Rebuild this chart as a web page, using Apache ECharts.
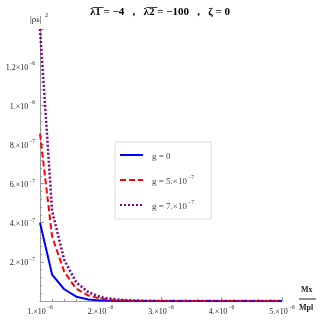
<!DOCTYPE html>
<html>
<head>
<meta charset="utf-8">
<title>rho</title>
<script src="https://cdn.jsdelivr.net/npm/echarts@6/dist/echarts.min.js"></script>
<style>
  html, body { margin: 0; padding: 0; background: #fff; }
  #main { width: 320px; height: 320px; }
</style>
</head>
<body>
<div id="main"></div>
<script>
// x in units of 1e-6 (Mx/Mpl), y in units of 1e-7 (|rho_k|^2)
var xs = [1.0, 1.2, 1.4, 1.6, 1.8, 2.0, 2.2, 2.4, 2.6, 2.8, 3.0, 3.2, 3.4, 3.6, 3.8, 4.0, 4.2, 4.4, 4.6, 4.8, 5.0];
var g0 = [4.0, 1.35, 0.6, 0.22, 0.08, 0.03, 0.012, 0.005, 0.002, 0.001, 0, 0, 0, 0, 0, 0, 0, 0, 0, 0, 0];
var g5 = [8.55, 3.3, 1.5, 0.62, 0.28, 0.12, 0.05, 0.02, 0.01, 0.005, 0.002, 0.001, 0, 0, 0, 0, 0, 0, 0, 0, 0];
var g7 = [13.9, 4.6, 2.1, 0.95, 0.45, 0.2, 0.1, 0.05, 0.02, 0.01, 0.005, 0.002, 0.001, 0, 0, 0, 0, 0, 0, 0, 0];
var names = ['g = 0', 'g = 5.\u00d710\u207b\u2077', 'g = 7.\u00d710\u207b\u2077'];
var legendText = ['{m|g = 0}', '{m|g = 5.\u00d710}{e|\u22127}', '{m|g = 7.\u00d710}{e|\u22127}'];

function pairs(ys) {
  return xs.map(function (x, i) { return [x, ys[i]]; });
}

var serif = '"Liberation Serif", "DejaVu Serif", serif';
var supRich = {
  m: { fontFamily: serif, fontSize: 8, color: '#222', lineHeight: 11, verticalAlign: 'bottom' },
  e: { fontFamily: serif, fontSize: 5.5, color: '#222', lineHeight: 11, verticalAlign: 'top', padding: [0, 0, 0, 1] }
};

var chart = echarts.init(document.getElementById('main'));

chart.setOption({
  backgroundColor: '#fff',
  animation: false,
  grid: { left: 40, right: 38, top: 29, bottom: 19 },
  title: {
    text: '\u03bb\u03051\u0305 = \u22124   ,   \u03bb\u03052\u0305 = \u2212100   ,   \u03b6 = 0',
    left: 'center',
    top: 2,
    textStyle: { fontFamily: serif, fontSize: 11, fontWeight: 'bold', color: '#000' }
  },
  legend: {
    orient: 'vertical',
    left: 115,
    top: 142,
    itemWidth: 23,
    itemHeight: 10,
    itemGap: 13,
    padding: [9, 17, 8, 4],
    borderColor: '#ddd',
    borderWidth: 1,
    itemStyle: { opacity: 0 },
    textStyle: {
      padding: [0, 0, 0, 4],
      rich: {
        m: { fontFamily: serif, fontSize: 9, color: '#444', lineHeight: 12, verticalAlign: 'bottom' },
        e: { fontFamily: serif, fontSize: 6, color: '#444', lineHeight: 12, verticalAlign: 'top', padding: [0, 0, 0, 1] }
      }
    },
    formatter: function (n) { return legendText[names.indexOf(n)]; },
    data: names
  },
  xAxis: {
    type: 'value',
    min: 1,
    max: 5,
    interval: 1,
    axisLine: { lineStyle: { color: '#999' } },
    axisTick: { inside: true, length: 4, lineStyle: { color: '#999' } },
    minorTick: { show: true, splitNumber: 5, length: 2, lineStyle: { color: '#999' } },
    splitLine: { show: false },
    axisLabel: {
      margin: 4,
      rich: supRich,
      formatter: function (v) { return '{m|' + v + '.\u00d710}{e|\u22126}'; }
    }
  },
  yAxis: {
    type: 'value',
    min: 0,
    max: 13.9,
    interval: 2,
    axisLine: { lineStyle: { color: '#999' } },
    axisTick: { inside: true, length: 4, lineStyle: { color: '#999' } },
    minorTick: { show: true, splitNumber: 5, length: 2, lineStyle: { color: '#999' } },
    splitLine: { show: false },
    axisLabel: {
      margin: 5,
      rich: supRich,
      showMaxLabel: false,
      formatter: function (v) {
        if (v === 0 || Math.abs(v / 2 - Math.round(v / 2)) > 1e-6) return '';
        if (v >= 10) {
          var s = (v / 10).toFixed(1).replace(/\.0$/, '.');
          return '{m|' + s + '\u00d710}{e|\u22126}';
        }
        return '{m|' + v + '.\u00d710}{e|\u22127}';
      }
    }
  },
  graphic: [
    { type: 'text', left: 30, top: 15, style: { text: '|\u03c1\u2096|', font: '9px ' + serif, fill: '#222' } },
    { type: 'text', left: 45, top: 12, style: { text: '2', font: '6px ' + serif, fill: '#222' } },
    { type: 'text', left: 301, top: 286, style: { text: 'Mx', font: 'bold 8px ' + serif, fill: '#222' } },
    { type: 'line', shape: { x1: 299, y1: 299, x2: 316, y2: 299 }, style: { stroke: '#222', lineWidth: 1 } },
    { type: 'text', left: 299, top: 304, style: { text: 'Mpl', font: 'bold 8px ' + serif, fill: '#222' } }
  ],
  series: [
    {
      name: names[0], type: 'line', data: pairs(g0), symbol: 'none',
      lineStyle: { color: '#0000ff', width: 2 }, itemStyle: { color: '#0000ff' }
    },
    {
      name: names[1], type: 'line', data: pairs(g5), symbol: 'none',
      lineStyle: { color: '#ff0000', width: 2, type: [6, 3] }, itemStyle: { color: '#ff0000' }
    },
    {
      name: names[2], type: 'line', data: pairs(g7), symbol: 'none',
      lineStyle: { color: '#800080', width: 2.5, type: [2, 2] }, itemStyle: { color: '#800080' }
    }
  ]
});
</script>
</body>
</html>
